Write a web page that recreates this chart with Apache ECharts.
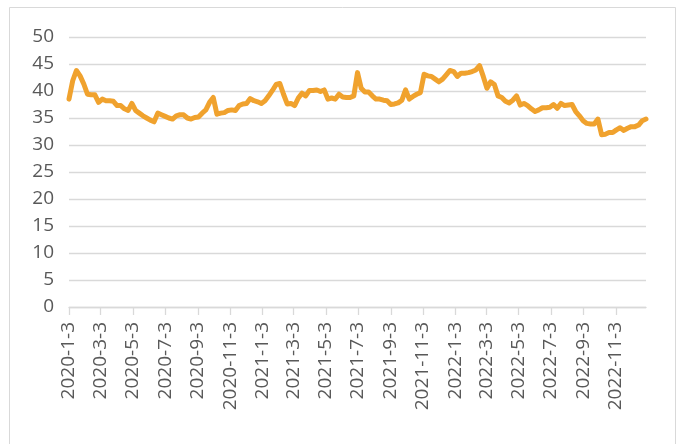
<!DOCTYPE html>
<html>
<head>
<meta charset="utf-8">
<script src="https://cdn.jsdelivr.net/npm/echarts@6/dist/echarts.min.js"></script>
<style>
html,body{margin:0;padding:0;background:#fff;}
#chart{width:680px;height:444px;}
</style>
</head>
<body>
<div id="chart"></div>
<script>
// Weekly observations (Fridays) from 2020-01-03 to 2022-12-30
var startDate = '2020-1-3';
var endDate = '2022-12-30';
var values = [
  38.5, 41.9, 43.8, 42.8, 41.3, 39.4, 39.3, 39.3, 37.9, 38.5,
  38.2, 38.2, 38.1, 37.3, 37.3, 36.7, 36.4, 37.7, 36.4, 35.9,
  35.4, 35.0, 34.6, 34.3, 35.9, 35.6, 35.3, 35.0, 34.8, 35.4,
  35.6, 35.6, 35.0, 34.8, 35.1, 35.2, 35.9, 36.5, 37.9, 38.8,
  35.7, 35.9, 36.0, 36.4, 36.5, 36.4, 37.3, 37.6, 37.7, 38.6,
  38.2, 38.0, 37.7, 38.2, 39.1, 40.1, 41.2, 41.4, 39.4, 37.6,
  37.7, 37.3, 38.7, 39.6, 39.1, 40.1, 40.1, 40.2, 39.9, 40.2,
  38.5, 38.7, 38.5, 39.4, 38.9, 38.8, 38.8, 39.1, 43.4, 40.5,
  39.8, 39.8, 39.1, 38.5, 38.5, 38.3, 38.2, 37.5, 37.6, 37.8,
  38.3, 40.2, 38.5, 39.0, 39.4, 39.7, 43.1, 42.8, 42.7, 42.2,
  41.7, 42.2, 43.0, 43.8, 43.6, 42.7, 43.3, 43.3, 43.4, 43.6,
  43.9, 44.7, 42.7, 40.5, 41.7, 41.2, 39.1, 38.8, 38.1, 37.8,
  38.3, 39.1, 37.4, 37.7, 37.3, 36.7, 36.2, 36.5, 36.9, 36.9,
  37.0, 37.5, 36.8, 37.7, 37.3, 37.4, 37.5, 36.2, 35.4, 34.5,
  34.0, 33.9, 33.9, 34.8, 31.9, 32.0, 32.3, 32.3, 32.8, 33.2,
  32.7, 33.1, 33.4, 33.4, 33.7, 34.5, 34.8
];
var xTickLabels = [
  '2020-1-3', '2020-3-3', '2020-5-3', '2020-7-3', '2020-9-3', '2020-11-3',
  '2021-1-3', '2021-3-3', '2021-5-3', '2021-7-3', '2021-9-3', '2021-11-3',
  '2022-1-3', '2022-3-3', '2022-5-3', '2022-7-3', '2022-9-3', '2022-11-3'
];
var yTicks = [0, 5, 10, 15, 20, 25, 30, 35, 40, 45, 50];

function parseDate(s) {
  var p = s.split('-').map(Number);
  return Date.UTC(p[0], p[1] - 1, p[2]);
}
function fmtDate(t) {
  var d = new Date(t);
  return d.getUTCFullYear() + '-' + (d.getUTCMonth() + 1) + '-' + d.getUTCDate();
}

var DAY = 86400000;
var t0 = parseDate(startDate);
var tEnd = parseDate(endDate);
var seriesData = values.map(function (v, i) {
  return [t0 + 7 * i * DAY, v];
});
var tickTimes = xTickLabels.map(parseDate);

var chart = echarts.init(document.getElementById('chart'), null, {renderer: 'canvas'});
var FONT = '"Open Sans", sans-serif';
chart.setOption({
  animation: false,
  backgroundColor: '#ffffff',
  graphic: [{
    type: 'rect',
    shape: {x: 9.5, y: 7.5, width: 666, height: 460},
    style: {fill: 'none', stroke: '#d9d9d9', lineWidth: 1},
    silent: true
  }],
  grid: {left: 69, right: 34, top: 37, bottom: 137, containLabel: false},
  xAxis: {
    type: 'value',
    min: t0,
    max: tEnd,
    scale: true,
    splitLine: {show: false},
    axisLine: {show: true, onZero: false, lineStyle: {color: '#d9d9d9', width: 1.3}},
    axisTick: {show: true, customValues: tickTimes, length: 8, lineStyle: {color: '#d9d9d9', width: 1.3}},
    axisLabel: {
      customValues: tickTimes,
      rotate: 90,
      margin: 15,
      color: '#595959',
      fontFamily: FONT,
      fontSize: 19,
      hideOverlap: false,
      formatter: function (v) { return fmtDate(v); }
    }
  },
  yAxis: {
    type: 'value',
    min: yTicks[0],
    max: yTicks[yTicks.length - 1],
    interval: yTicks[1] - yTicks[0],
    axisLine: {show: false},
    axisTick: {show: false},
    splitLine: {show: true, lineStyle: {color: '#d9d9d9', width: 1.3}},
    axisLabel: {color: '#595959', fontFamily: FONT, fontSize: 19, margin: 15}
  },
  series: [{
    type: 'line',
    data: seriesData,
    showSymbol: false,
    symbol: 'none',
    lineStyle: {color: '#F0A22E', width: 5, join: 'round', cap: 'round'},
    itemStyle: {color: '#F0A22E'}
  }]
});
</script>
</body>
</html>
